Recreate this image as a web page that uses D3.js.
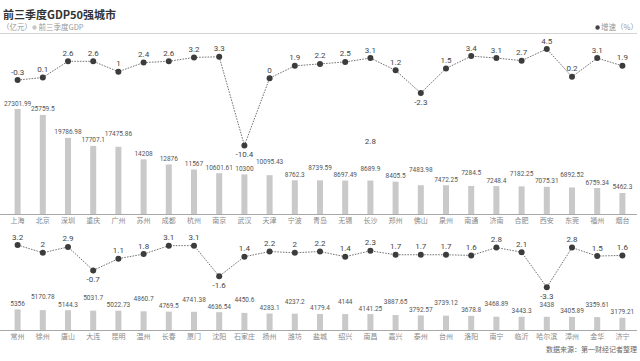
<!DOCTYPE html>
<html>
<head>
<meta charset="utf-8">
<script src="https://cdn.jsdelivr.net/npm/d3@7"></script>
<style>
  html, body { margin: 0; padding: 0; background: #fff; }
  svg text { font-family: Roboto, "Noto Sans CJK SC", sans-serif; }
  .cjk { font-family: "Noto Sans CJK SC", sans-serif; }
</style>
</head>
<body>
<div id="chart"></div>
<script>
// top 25
const topCities = ["上海", "北京", "深圳", "重庆", "广州", "苏州", "成都", "杭州", "南京", "武汉", "天津", "宁波", "青岛",
    "无锡", "长沙", "郑州", "佛山", "泉州", "南通", "济南", "合肥", "西安", "东莞", "福州", "烟台"];
const topGdp = [27301.99, 25759.5, 19786.98, 17707.1, 17475.86, 14208, 12876, 11567, 10601.61, 10300, 10095.43, 8762.3,
    8739.59, 8697.49, 8689.9, 8405.5, 7483.98, 7472.25, 7284.5, 7248.4, 7182.25, 7075.31, 6892.52, 6759.34, 5462.3];
const topGrowth = [-0.3, 0.1, 2.6, 2.6, 1, 2.4, 2.6, 3.2, 3.3, -10.4, 0, 1.9, 2.2, 2.5, 3.1, 1.2, -2.3, 1.5, 3.4, 3.1,
    2.7, 4.5, 0.2, 3.1, 1.9];

// 26-50
const bottomCities = ["常州", "徐州", "唐山", "大连", "昆明", "温州", "长春", "厦门", "沈阳", "石家庄", "扬州", "潍坊", "盐城",
    "绍兴", "南昌", "嘉兴", "泰州", "台州", "洛阳", "南宁", "临沂", "哈尔滨", "漳州", "金华", "济宁"];
const bottomGdp = [5356, 5170.78, 5144.3, 5031.7, 5022.73, 4860.7, 4769.5, 4741.38, 4636.54, 4450.6, 4283.1, 4237.2,
    4179.4, 4144, 4141.25, 3887.65, 3792.57, 3739.12, 3678.8, 3468.89, 3443.3, 3438, 3405.89, 3359.61, 3179.21];
const bottomGrowth = [3.2, 2, 2.9, -0.7, 1.1, 1.8, 3.1, 3.1, -1.6, 1.4, 2.2, 2, 2.2, 1.4, 2.3, 1.7, 1.7, 1.7, 1.6, 2.8,
    2.1, -3.3, 2.8, 1.5, 1.6];

// stray label that sits over the 长沙 bar in the original
const strayNote = { city: "长沙", text: "2.8" };

const W = 640, H = 361;

const svg = d3.select("#chart")
    .append("svg")
    .attr("width", W)
    .attr("height", H);

// header
svg.append("text")
    .attr("class", "cjk")
    .attr("x", 3)
    .attr("y", 19)
    .attr("fill", "#333")
    .style("font-size", "11px")
    .style("font-weight", "bold")
    .text("前三季度GDP50强城市");

svg.append("text")
    .attr("class", "cjk")
    .attr("x", 2)
    .attr("y", 30)
    .attr("fill", "#999")
    .style("font-size", "7.5px")
    .text("（亿元）");
svg.append("circle").attr("cx", 34.5).attr("cy", 27.5).attr("r", 2.2).attr("fill", "#c8c8c8");
svg.append("text")
    .attr("class", "cjk")
    .attr("x", 38.5)
    .attr("y", 30)
    .attr("fill", "#999")
    .style("font-size", "7.5px")
    .text("前三季度GDP");

const rateLegend = svg.append("text")
    .attr("class", "cjk")
    .attr("x", 638)
    .attr("y", 30)
    .attr("text-anchor", "end")
    .attr("fill", "#999")
    .style("font-size", "7.5px")
    .text("增速（%）");
const rateW = rateLegend.node().getComputedTextLength();
svg.append("circle").attr("cx", 638 - rateW - 3.5).attr("cy", 27.5).attr("r", 2.2).attr("fill", "#444");

svg.append("line")
    .attr("x1", 0).attr("x2", 637)
    .attr("y1", 33.5).attr("y2", 33.5)
    .attr("stroke", "#d4d4d4")
    .attr("stroke-width", 1);

svg.append("text")
    .attr("class", "cjk")
    .attr("x", 637)
    .attr("y", 351.5)
    .attr("text-anchor", "end")
    .attr("fill", "#666")
    .style("font-size", "7px")
    .text("数据来源：第一财经记者整理");

// bar height scale shared by both panels
const barH = d3.scaleLinear().domain([0, 27301.99]).range([0, 105]);

function hits(a, b) {
    return a.x0 < b.x1 && a.x1 > b.x0 && a.y0 < b.y1 && a.y1 > b.y0;
}

function drawPanel(cfg) {
    const x = d3.scaleBand()
        .domain(cfg.cities)
        .range([5, 635])
        .padding(0);

    const y = d3.scaleLinear()
        .domain(cfg.growthDomain)
        .range(cfg.growthRange);

    const rows = cfg.cities.map((c, i) => ({ city: c, gdp: cfg.gdp[i], growth: cfg.growth[i], i }));
    const cx = d => x(d.city) + x.bandwidth() / 2;
    const g = svg.append("g");

    // bars
    g.selectAll("rect.bar")
        .data(rows)
        .join("rect")
        .attr("class", "bar")
        .attr("x", d => cx(d) - 3)
        .attr("width", 6)
        .attr("y", d => cfg.base - barH(d.gdp))
        .attr("height", d => barH(d.gdp))
        .attr("fill", "#c9c9c9");

    // baseline + city names
    g.append("line")
        .attr("x1", 0).attr("x2", 637)
        .attr("y1", cfg.base + 0.5).attr("y2", cfg.base + 0.5)
        .attr("stroke", "#a8a8a8");

    const axis = g.append("g")
        .attr("transform", `translate(0,${cfg.base})`)
        .call(d3.axisBottom(x).tickSize(0).tickPadding(4));
    axis.select(".domain").remove();
    axis.selectAll("text")
        .attr("class", "cjk")
        .attr("fill", "#888")
        .style("font-size", "7px");

    // growth line
    const line = d3.line()
        .x(cx)
        .y(d => y(d.growth));

    g.append("path")
        .datum(rows)
        .attr("d", line)
        .attr("fill", "none")
        .attr("stroke", "#505050")
        .attr("stroke-width", 0.8)
        .attr("stroke-dasharray", "1.6,1.2");

    g.selectAll("circle.pt")
        .data(rows)
        .join("circle")
        .attr("class", "pt")
        .attr("cx", cx)
        .attr("cy", d => y(d.growth))
        .attr("r", 3)
        .attr("fill", "#3c3c3c");

    // negative dips get their label underneath
    const below = d => d.growth < 0 && d.i > 0 && d.i < rows.length - 1 &&
        rows[d.i - 1].growth > d.growth && rows[d.i + 1].growth > d.growth;

    const grLabels = g.selectAll("text.gr")
        .data(rows)
        .join("text")
        .attr("class", "gr")
        .attr("x", cx)
        .attr("y", d => below(d) ? y(d.growth) + 11.5 : y(d.growth) - 5.5)
        .attr("text-anchor", "middle")
        .attr("fill", "#444")
        .style("font-size", "8px")
        .text(d => d.growth);

    const taken = grLabels.nodes().map(n => {
        const b = n.getBBox();
        return { x0: b.x, x1: b.x + b.width, y0: b.y, y1: b.y + b.height };
    });

    // value labels, pushed up when they run into the previous one
    const labels = g.selectAll("text.val")
        .data(rows)
        .join("text")
        .attr("class", "val")
        .attr("x", cx)
        .attr("text-anchor", "middle")
        .attr("fill", "#555")
        .style("font-size", "6.5px")
        .text(d => d.gdp);

    let prev = null;
    labels.each(function (d) {
        const w = this.getComputedTextLength();
        const c = cx(d);
        let ly = cfg.base - barH(d.gdp) - 3.5;
        if (prev) {
            const gap = (c - w / 2) - (prev.c + prev.w / 2);
            if (gap < cfg.labelGap && Math.abs(ly - prev.y) < cfg.labelDy) {
                const up = prev.y - 6.5;
                const box = { x0: c - w / 2, x1: c + w / 2, y0: up - 5, y1: up };
                if (!taken.some(t => hits(t, box))) ly = up;
            }
        }
        d3.select(this).attr("y", ly);
        prev = { c, w, y: ly };
    });

    return x;
}

const xTop = drawPanel({
    cities: topCities, gdp: topGdp, growth: topGrowth,
    base: 214, growthDomain: [-10.4, 4.5], growthRange: [145.5, 49],
    labelGap: 4, labelDy: 3.6
});

drawPanel({
    cities: bottomCities, gdp: bottomGdp, growth: bottomGrowth,
    base: 330, growthDomain: [-3.3, 3.2], growthRange: [287.3, 245],
    labelGap: 8, labelDy: 6
});

svg.append("text")
    .attr("x", xTop(strayNote.city) + xTop.bandwidth() / 2)
    .attr("y", 144)
    .attr("text-anchor", "middle")
    .attr("fill", "#444")
    .style("font-size", "8px")
    .text(strayNote.text);
</script>
</body>
</html>
